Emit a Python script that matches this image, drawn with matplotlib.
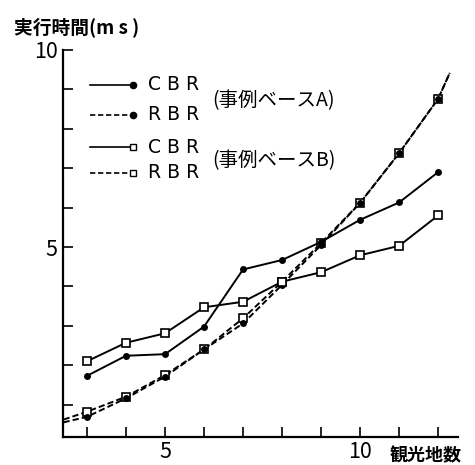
import matplotlib.pyplot as plt
import numpy as np

plt.rcParams['font.family'] = ['Noto Sans CJK JP', 'DejaVu Sans']

# number of sightseeing spots
spots = [3, 4, 5, 6, 7, 8, 9, 10, 11, 12]

# execution time (ms)
cbr_a = [1.73, 2.24, 2.28, 2.98, 4.43, 4.67, 5.13, 5.69, 6.13, 6.90]
rbr_a = [0.69, 1.16, 1.71, 2.40, 3.06, 4.04, 5.05, 6.12, 7.38, 8.76]
cbr_b = [2.10, 2.57, 2.81, 3.47, 3.61, 4.12, 4.36, 4.79, 5.03, 5.80]
rbr_b = [0.82, 1.20, 1.75, 2.40, 3.19, 4.12, 5.10, 6.12, 7.38, 8.76]

# the RBR curves run past the measured points on both ends
rbr_left_x, rbr_right_x = 2.4, 12.3
rbr_a_ends = [0.55, 9.42]
rbr_b_ends = [0.62, 9.42]

fig = plt.figure(figsize=(4.75, 4.65), dpi=100)
ax = fig.add_axes([63/475, 1-437/465, 395/475, 387/465])

lw = 1.4
dash = (0, (3.2, 1.6))

# RBR A / B (dashed, extended)
for vals, ends in [(rbr_a, rbr_a_ends), (rbr_b, rbr_b_ends)]:
    xs = [rbr_left_x] + spots + [rbr_right_x]
    ys = [ends[0]] + vals + [ends[1]]
    ax.plot(xs, ys, color='k', lw=lw, linestyle=dash)
ax.plot(spots, rbr_b, 's', color='k', mfc='white', ms=5.5, mew=1.2)
ax.plot(spots, rbr_a, 'o', color='k', ms=5, mew=0)

# CBR A / B (solid)
ax.plot(spots, cbr_a, '-o', color='k', lw=lw, ms=5, mew=0)
ax.plot(spots, cbr_b, '-s', color='k', lw=lw, ms=5.5, mfc='white', mew=1.2)

ax.set_xlim(2.385, 12.51)
ax.set_ylim(0.178, 10)
ax.spines['top'].set_visible(False)
ax.spines['right'].set_visible(False)
ax.spines['left'].set_linewidth(1.6)
ax.spines['bottom'].set_linewidth(1.6)
ax.set_xticks(np.arange(3, 13))
ax.set_xticklabels(['' if v not in (5, 10) else str(v) for v in range(3, 13)])
ax.set_yticks(np.arange(1, 11))
ax.set_yticklabels(['' if v not in (5, 10) else str(v) for v in range(1, 11)])
ax.tick_params(direction='in', length=7, width=1.2, labelsize=15.5, pad=3)
ax.tick_params(axis='y', pad=4)

# legend drawn by hand: line then marker at the end
leg = [(85, '-', 'o', 'k', 'C B R'),
       (115, dash, 'o', 'k', 'R B R'),
       (147, '-', 's', 'white', 'C B R'),
       (173, dash, 's', 'white', 'R B R')]
for py, ls, mk, mfc, txt in leg:
    yy = 1 - (py - 50) / 387
    x0, x1 = (90 - 63) / 395, (133 - 63) / 395
    ax.plot([x0, x1], [yy, yy], color='k', lw=1.2, linestyle=ls, transform=ax.transAxes)
    ax.plot([x1], [yy], mk, color='k', mfc=mfc, ms=4.5 if mk == 'o' else 5, mew=1.0,
            transform=ax.transAxes, clip_on=False)
    ax.text((148 - 63) / 395, yy, txt, transform=ax.transAxes, fontsize=13.5,
            va='center', ha='left', family=['DejaVu Sans'])
ax.text((212 - 63) / 395, 1 - (101 - 50) / 387, '(事例ベースA)', transform=ax.transAxes,
        fontsize=14, va='center', ha='left')
ax.text((212 - 63) / 395, 1 - (161 - 50) / 387, '(事例ベースB)', transform=ax.transAxes,
        fontsize=14, va='center', ha='left')

fig.text(14/475, 1-27/465, '実行時間(m s )', fontsize=13.5, fontweight='bold', va='center', ha='left')
fig.text(390/475, 1-456/465, '観光地数', fontsize=13, fontweight='bold', va='center', ha='left')

fig.savefig('out.png', dpi=100)
